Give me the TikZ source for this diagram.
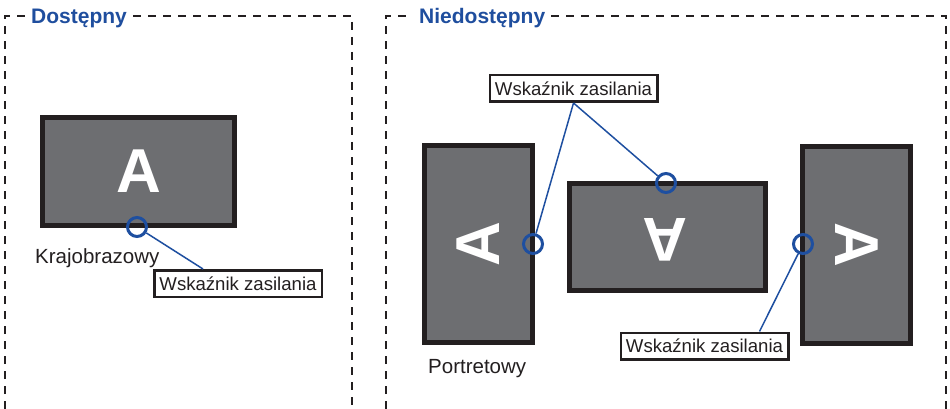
\documentclass[tikz,border=0pt]{standalone}
\usepackage{fontspec}
\setmainfont{Liberation Sans}
\definecolor{ink}{HTML}{231F20}
\definecolor{scr}{HTML}{6D6E71}
\definecolor{ttl}{HTML}{1F4E9E}
\definecolor{led}{HTML}{1E4FA0}
\begin{document}
\begin{tikzpicture}[x=1pt,y=-1pt,
  zone/.style={draw=ink,line width=2pt,dash pattern=on 8pt off 7pt},
  title/.style={text=ttl,font=\fontsize{21}{24}\selectfont\bfseries,inner sep=0pt,anchor=base west},
  lbl/.style={text=ink,font=\fontsize{20.5}{24}\selectfont,inner sep=0pt,anchor=base west},
  monitor/.style={draw=ink,fill=scr,line width=5pt,inner sep=0pt},
  glyph/.style={text=white,font=\fontsize{62}{62}\selectfont\bfseries,inner sep=0pt},
  callout/.style={draw=ink,fill=white,line width=2.5pt,text=ink,inner sep=0pt,
    font=\fontsize{18.6}{22}\selectfont,minimum width=167.5pt,minimum height=26.5pt},
  ledring/.style={circle,draw=led,line width=3pt,minimum size=19pt,inner sep=0pt},
  leader/.style={draw=led,line width=1.5pt}]
\useasboundingbox (0,0) rectangle (950,409);
% zones
\draw[zone] (5,409) -- (5,16) -- (26,16);
\draw[zone] (133,16) -- (352,16) -- (352,409);
\draw[zone] (386,409) -- (386,16) -- (412,16);
\draw[zone] (551,16) -- (946,16) -- (946,409);
\node[title] (t1) at (31,24) {Dostępny};
\node[title] (t2) at (419,24) {Niedostępny};
% monitors
\node[monitor,minimum width=192pt,minimum height=108pt] (m1) at (138.5,171.5) {};
\node[monitor,minimum width=108pt,minimum height=197pt] (m2) at (478.5,244) {};
\node[monitor,minimum width=196pt,minimum height=107pt] (m3) at (667.5,237) {};
\node[monitor,minimum width=108pt,minimum height=197pt] (m4) at (856.5,245) {};
\node[glyph] (a1) at (m1.center) {A};
\node[glyph,rotate=90] (a2) at (m2.center) {A};
\node[glyph,rotate=180] (a3) at (665,240) {A};
\node[glyph,rotate=-90] (a4) at (m4.center) {A};
% leds
\node[ledring] (c1) at (137,227) {};
\node[ledring] (c2) at (533,244) {};
\node[ledring] (c3) at (666,183) {};
\node[ledring] (c4) at (803,244) {};
% labels
\node[lbl] (k) at (35,263) {Krajobrazowy};
\node[lbl] (p) at (428,373) {Portretowy};
% callouts
\node[callout] (w1) at (238,283.5) {Wskaźnik zasilania};
\node[callout] (w2) at (573.5,88.5) {Wskaźnik zasilania};
\node[callout] (w3) at (704.5,346) {Wskaźnik zasilania};
\draw[leader] ([xshift=50pt]w1.north west) -- (c1);
\draw[leader] (w2.south) -- (c2);
\draw[leader] (w2.south) -- (c3);
\draw[leader] ([xshift=140pt]w3.north west) -- (c4);
\end{tikzpicture}
\end{document}
